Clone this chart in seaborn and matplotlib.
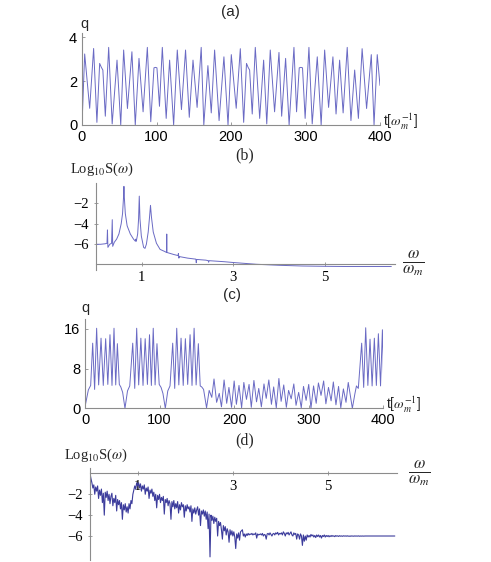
import numpy as np
import matplotlib
matplotlib.use("Agg")
import matplotlib.pyplot as plt
import seaborn as sns

# (a) regular regime: turning points of q(t)
a_t = [0, 3.6, 10.3, 15.6, 20, 23.7, 26, 28, 31.3, 35.8, 40.5, 47, 52, 55.9, 61, 67, 71.5,
       76.5, 82, 87.7, 92.3, 96.6, 98.6, 100.6, 104, 107.8, 113, 117.6, 123, 127.9, 133.5,
       139, 144, 149, 154.5, 160, 163.5, 169, 173.5, 178, 184, 190.5, 196, 200.4, 207,
       212.5, 217, 220.8, 223, 225, 228.5, 232.6, 238.5, 243.8, 248, 252.7, 258.5, 264.4,
       268, 273.3, 278, 284.5, 288, 291.6, 293.8, 296, 299.5, 304.6, 309, 315.8, 321,
       325.7, 331, 336.8, 341, 345.8, 350.5, 356, 361, 366, 371, 376, 382, 388.3, 392,
       396.3, 400]
a_q = [0.0, 3.23, 0.76, 3.48, 0.12, 2.8, 2.62, 2.5, 0.4, 3.53, 0.05, 2.95, 0.0, 3.41, 0.75,
       3.33, 0.0, 3.03, 0.6, 3.53, 0.15, 2.6, 2.62, 2.6, 0.85, 3.53, 0.3, 2.95, 0.0, 3.41,
       0.7, 3.41, 0.35, 2.95, 0.8, 3.53, 0.0, 2.7, 0.55, 3.41, 0.2, 3.1, 0.0, 3.2, 0.76,
       3.47, 0.12, 2.8, 2.62, 2.5, 0.5, 3.53, 0.3, 2.95, 0.05, 3.41, 0.6, 3.3, 0.4, 3.03,
       0.0, 3.53, 0.6, 2.6, 2.62, 2.6, 0.3, 3.53, 0.05, 3.1, 0.0, 3.41, 0.8, 3.1, 0.5, 2.95,
       0.55, 3.53, 0.2, 2.5, 0.3, 3.47, 0.75, 3.2, 0.0, 3.2, 1.8]

# (b) spectrum of (a)
b_w = [0.0, 0.1, 0.2, 0.24, 0.25, 0.26, 0.3, 0.34, 0.355, 0.365, 0.4, 0.45, 0.5, 0.55, 0.58,
       0.6, 0.61, 0.62, 0.64, 0.68, 0.75, 0.82, 0.86, 0.87, 0.88, 0.91, 0.93, 0.945, 0.96,
       0.99, 1.04, 1.07, 1.1, 1.14, 1.17, 1.19, 1.21, 1.25, 1.32, 1.4, 1.5, 1.54, 1.545,
       1.55, 1.7, 1.79, 1.8, 1.81, 1.82, 2.0, 2.18, 2.19, 2.2, 2.4, 2.45, 2.46, 2.47, 2.8,
       3.0, 3.5, 4.0, 4.5, 5.0, 5.5, 6.0, 6.45]
b_s = [-6.0, -6.0, -5.95, -5.9, -4.6, -6.3, -6.0, -5.9, -3.6, -6.2, -5.8, -5.5, -5.0, -4.0,
       -3.0, -1.5, -0.35, -1.5, -3.0, -4.2, -5.0, -5.5, -5.7, -5.5, -5.7, -5.0, -3.5, -1.3,
       -3.5, -5.2, -6.3, -6.4, -6.0, -4.8, -3.3, -2.2, -3.3, -4.8, -5.9, -6.5, -6.7, -6.8,
       -5.0, -6.8, -7.0, -7.1, -6.9, -7.35, -7.2, -7.35, -7.45, -7.8, -7.48, -7.55, -7.6,
       -7.75, -7.6, -7.7, -7.78, -7.95, -8.05, -8.12, -8.15, -8.17, -8.17, -8.17]

# (c) chaotic regime: turning points of q(t)
c_t = [0, 4.5, 7.6, 10.3, 12.9, 15.6, 18.3, 21.5, 24.5, 27.7, 30.6, 33.5, 36.2, 38.9, 41.2,
       43.4, 46, 48, 50.5, 53.6, 57, 60, 64, 66.7, 69.3, 72, 74.9, 77.8, 80.7, 83.7, 86.5,
       89, 91.5, 94, 96.5, 99.5, 102, 104.5, 107.7, 111, 114, 117.6, 120.3, 123, 125.8,
       128.8, 131.7, 134.6, 137.7, 140.9, 143.5, 146.3, 149, 152, 154.5, 156.5, 159,
       163, 166.5, 170, 173, 176.5, 180, 183, 186.5, 190, 193, 196.5, 200, 203, 206.5,
       210, 213, 216.5, 220, 223, 226.5, 230, 233, 236.5, 240, 243, 246.5, 250, 253,
       256.5, 260, 263, 266.5, 270, 273, 276.5, 280, 283, 286.5, 290, 293, 296.5, 300,
       303, 306.5, 310, 313, 316.5, 320, 323, 326.5, 330, 333, 336.5, 340, 343, 346.5,
       350, 353, 358.5,
       362, 364, 366.5, 371, 373.7, 376.4, 379.3, 382.2, 385, 388, 390.7, 393.4, 396.3,
       398.8, 400.5]
c_q = [0.3, 3.7, 4.6, 13.1, 3.8, 16.1, 4.7, 14.1, 4.6, 14.0, 4.8, 14.8, 4.6, 16.1, 4.7, 13.0,
       4.8, 4.3, 3.2, 0.0, 3.5, 4.5, 13.1, 4.0, 16.1, 4.7, 14.1, 4.6, 14.0, 4.8, 14.8, 4.6,
       16.1, 4.7, 13.0, 4.8, 4.2, 3.0, 0.0, 3.5, 4.5, 13.1, 4.0, 16.1, 4.7, 14.1, 4.6, 14.0,
       4.8, 14.8, 4.6, 16.1, 4.7, 13.0, 4.5, 4.3, 3.8,
       0.1, 3.6, 2.2, 5.9, 1.2, 3.0, 0.3, 5.7, 1.0, 4.2, 0.2, 5.5, 0.8, 4.6,
       0.1, 5.2, 1.8, 4.8, 0.2, 5.6, 1.3, 4.0, 0.3, 4.9, 2.0, 5.7, 0.8, 4.3,
       0.1, 6.0, 1.4, 4.7, 0.2, 3.6, 1.9, 4.9, 0.6, 3.2, 0.1, 4.4, 1.6, 4.8,
       0.0, 4.5, 1.0, 5.1, 2.6, 5.5, 0.9, 4.2, 1.5, 5.3, 0.7, 4.4, 0.1, 3.9,
       1.2, 5.2, 0.0,
       3.0, 4.5, 4.0, 13.1, 4.2, 16.2, 4.6, 13.9, 4.5, 14.1, 4.6, 15.0, 4.5, 15.8, 5.4]

# (d) spectrum of (c), sampled every 0.02 in omega/omega_m
d_s = [0.0, -0.5, -0.9, -1.4, -1.1, -2.0, -1.3, -1.7, -1.2, -2.4,
       -1.6, -2.1, -1.5, -2.8, -1.9, -4.0, -1.8, -2.3, -1.7, -2.6,
       -2.0, -2.9, -2.2, -1.9, -3.1, -2.4, -2.8, -2.1, -3.6, -2.5,
       -3.0, -2.6, -3.4, -2.8, -4.4, -3.0, -3.5, -2.9, -3.7, -3.2,
       -3.8, -2.9, -3.4, -2.6, -2.9, -2.0, -1.6, -1.2, -1.5, -0.9,
       -1.2, -0.9, -1.4, -1.0, -1.7, -1.2, -1.5, -1.1, -2.0, -1.4,
       -1.7, -1.3, -2.4, -1.6, -1.9, -1.5, -2.2, -1.8, -2.6, -2.0,
       -3.3, -2.1, -2.5, -2.0, -2.8, -2.3, -2.6, -2.2, -3.9, -2.5,
       -2.8, -2.4, -3.1, -2.6, -2.9, -4.4, -2.7, -3.2, -2.6, -3.4,
       -2.9, -3.3, -2.7, -3.8, -3.0, -3.5, -2.8, -3.2, -3.0, -4.2,
       -3.1, -3.6, -3.0, -3.4, -3.2, -3.7, -3.1, -4.6, -3.4, -3.8,
       -3.3, -3.9, -3.5, -3.2, -4.0, -3.4, -5.0, -3.6, -3.9, -3.5,
       -4.1, -3.6, -4.4, -3.7, -5.3, -3.9, -8.0, -4.0, -4.5, -4.1,
       -4.8, -4.2, -4.6, -4.3, -6.0, -4.6, -5.0, -4.7, -5.4, -6.3,
       -5.0, -5.5, -5.1, -5.9, -5.3, -5.6, -6.6, -5.4, -5.9, -5.5,
       -6.0, -5.6, -6.1, -7.2, -5.8, -6.2, -5.7, -6.4, -5.6, -5.5,
       -5.4, -6.0, -5.8, -6.1, -5.8, -5.95, -5.75, -5.9, -5.8, -5.85,
       -5.75, -5.9, -5.8, -5.85, -5.7, -6.2, -5.8, -5.9, -5.85, -5.8,
       -5.9, -5.75, -6.0, -5.85, -5.9, -6.3, -5.8, -5.75, -5.9, -5.7,
       -5.85, -6.0, -5.8, -5.75, -5.9, -5.7, -5.8, -5.65, -5.9, -5.75,
       -5.8, -5.7, -5.9, -5.6, -5.75, -6.0, -5.7, -5.8, -5.65, -5.9,
       -5.75, -5.6, -5.9, -6.0, -5.7, -5.85, -5.75, -6.3, -5.8, -5.9,
       -6.3, -5.8, -6.0, -6.9, -5.9, -6.5, -6.0, -6.4, -5.9, -6.1,
       -5.95, -6.1, -5.85, -6.0, -5.9, -6.1, -5.95, -6.15, -5.9, -6.05,
       -5.9, -6.1, -5.95, -6.2, -5.95, -6.05, -5.9, -6.1, -5.95, -6.05,
       -5.95, -6.08, -5.97, -6.05, -5.95, -6.03, -5.98, -6.06, -5.96, -6.02,
       -5.98, -6.04, -5.97, -6.02, -5.99, -6.03, -5.98, -6.01, -5.99, -6.02,
       -5.98, -6.02, -6.0, -6.03, -5.99, -6.01, -6.0, -6.02, -5.99, -6.01,
       -6.0, -6.01, -5.99, -6.02, -6.0, -6.01, -6.0, -6.01, -6.0, -6.0,
       -6.0, -6.01, -6.0, -6.0, -6.01, -6.0, -6.0, -6.01, -6.0, -6.0,
       -6.0, -6.0, -6.01, -6.0, -6.0, -6.0, -6.01, -6.0, -6.0, -6.0,
       -6.0, -6.0, -6.0, -6.0, -6.0, -6.0, -6.0, -6.0, -6.0, -6.0,
       -6.0]
d_w = np.linspace(0, 0.02 * (len(d_s) - 1), len(d_s))

sns.set_style("ticks")
W, H = 491, 562
fig = plt.figure(figsize=(W / 100, H / 100), dpi=100)

SANS = "Liberation Sans"
SERIF = "Liberation Serif"
plt.rcParams["mathtext.fontset"] = "stix"
AX_COL = "#8c8c8c"


def rect(left, top, right, bottom):
    return [left / W, 1 - bottom / H, (right - left) / W, (bottom - top) / H]


def style(ax, family, size):
    for s in ["top", "right"]:
        ax.spines[s].set_visible(False)
    for s in ["left", "bottom"]:
        ax.spines[s].set_color(AX_COL)
        ax.spines[s].set_linewidth(0.8)
    ax.tick_params(colors=AX_COL, labelcolor="black", labelsize=size, width=0.6)
    for lab in ax.get_xticklabels() + ax.get_yticklabels():
        lab.set_family(family)
    ax.set_xlabel("")
    ax.set_ylabel("")


def ftext(x, y, s, family, size, ha="center"):
    fig.text(x / W, 1 - y / H, s, family=family, size=size, ha=ha, va="center")


# ---- (a)
ax = fig.add_axes(rect(82, 33.3, 380, 125))
sns.lineplot(x=a_t, y=a_q, ax=ax, color="#6a6ac4", lw=0.7, estimator=None, sort=False)
ax.set_xlim(0, 400)
ax.set_ylim(0, 4.17)
ax.set_xticks([0, 100, 200, 300, 400])
ax.set_yticks([0, 2, 4])
ax.tick_params(direction="in", length=2)
style(ax, SANS, 10.5)
ftext(230, 12, "(a)", SANS, 11)
ftext(84, 24, "q", SANS, 10.5)
ftext(383, 122, r"t[$\omega_m^{-1}$]", SANS, 10, ha="left")

# ---- (b)
ax = fig.add_axes(rect(96, 182.8, 395, 269.9))
sns.lineplot(x=b_w, y=b_s, ax=ax, color="#6a6ac4", lw=0.7, estimator=None, sort=False)
ax.set_xlim(0, 6.53)
ax.set_ylim(-8.5, 0)
ax.spines["bottom"].set_position(("data", -7.92))
ax.set_xticks([1, 3, 5])
ax.set_yticks([-2, -4, -6])
ax.set_yticklabels(["\u22122", "\u22124", "\u22126"])
ax.tick_params(direction="inout", length=3)
style(ax, SERIF, 10.5)
ftext(245, 155, "(b)", SERIF, 11.5)
ftext(70, 169, r"Log$_{10}$S($\omega$)", SERIF, 10.5, ha="left")
ftext(413, 263, r"$\frac{\omega}{\omega_m}$", SERIF, 17)

# ---- (c)
ax = fig.add_axes(rect(85, 319.3, 383.3, 408.3))
sns.lineplot(x=c_t, y=c_q, ax=ax, color="#6a6ac4", lw=0.7, estimator=None, sort=False)
ax.set_xlim(0, 400)
ax.set_ylim(0, 17.9)
ax.set_xticks([0, 100, 200, 300, 400])
ax.set_yticks([0, 8, 16])
ax.tick_params(direction="in", length=2)
style(ax, SANS, 10.5)
ftext(232, 295, "(c)", SANS, 11)
ftext(85, 308, "q", SANS, 10.5)
ftext(386, 405, r"t[$\omega_m^{-1}$]", SANS, 10, ha="left")

# ---- (d)
ax = fig.add_axes(rect(90, 468.2, 396.7, 560))
sns.lineplot(x=d_w, y=d_s, ax=ax, color="#3c3c9c", lw=0.8, estimator=None, sort=False)
ax.set_xlim(0, 6.44)
ax.set_ylim(-8.3, 0.5)
ax.spines["bottom"].set_position(("data", 0))
ax.set_xticks([1, 3, 5])
ax.set_yticks([-2, -4, -6])
ax.set_yticklabels(["\u22122", "\u22124", "\u22126"])
ax.tick_params(direction="inout", length=3)
style(ax, SERIF, 10.5)
ftext(245, 440, "(d)", SERIF, 11.5)
ftext(64, 455, r"Log$_{10}$S($\omega$)", SERIF, 10.5, ha="left")
ftext(419, 473, r"$\frac{\omega}{\omega_m}$", SERIF, 17)

fig.savefig("out.png", dpi=100)
